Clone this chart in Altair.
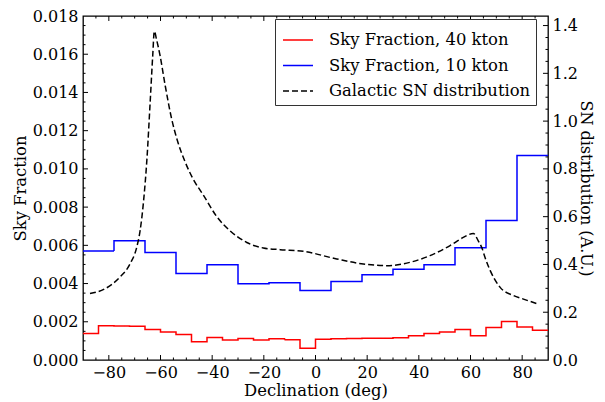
import altair as alt
import pandas as pd

FONT = "DejaVu Serif"

# ---- data ----
series_names = ["Sky Fraction, 40 kton", "Sky Fraction, 10 kton", "Galactic SN distribution"]

edges_10kt = [-90, -78, -66, -54, -42, -30, -18, -6, 6, 18, 30, 42, 54, 66, 78, 90]
frac_10kt = [0.00571, 0.00624, 0.00563, 0.00453, 0.00498, 0.00399, 0.00404, 0.00364,
             0.00411, 0.00446, 0.00475, 0.00499, 0.00588, 0.00730, 0.01070]

edges_40kt = [-90, -84, -78, -72, -66, -60, -54, -48, -42, -36, -30, -24, -18, -12, -6,
              0, 6, 12, 18, 24, 30, 36, 42, 48, 54, 60, 66, 72, 78, 84, 90]
frac_40kt = [0.00139, 0.00179, 0.00178, 0.00176, 0.00160, 0.00146, 0.00133, 0.00095,
             0.00118, 0.00104, 0.00113, 0.00104, 0.00111, 0.00106, 0.00062,
             0.00109, 0.00111, 0.00113, 0.00114, 0.00114, 0.00116, 0.00127, 0.00139,
             0.00147, 0.00160, 0.00127, 0.00170, 0.00201, 0.00173, 0.00156]

sn_dec = [-87.3, -81.5, -75.7, -71.8, -69.2, -67.9, -66.6, -65.2, -64.0, -63.0, -62.4,
          -61.5, -60.2, -58.2, -55.7, -53.5, -50.5, -47.5, -43.4, -38.2, -33.1, -26.6,
          -20.2, -13.7, -4.7, 8.2, 18.5, 27.6, 36.6, 44.3, 52.1, 57.2, 61.1, 63.0,
          64.4, 65.6, 67.6, 71.4, 76.6, 80.5, 85.6]
sn_val = [0.278, 0.298, 0.347, 0.402, 0.472, 0.541, 0.660, 0.850, 1.080, 1.276, 1.376,
          1.340, 1.276, 1.150, 1.010, 0.920, 0.830, 0.760, 0.690, 0.600, 0.541, 0.492,
          0.469, 0.462, 0.455, 0.423, 0.402, 0.395, 0.409, 0.437, 0.479, 0.513, 0.530,
          0.499, 0.470, 0.430, 0.375, 0.305, 0.270, 0.255, 0.236]

x_ticks_major = [-80, -60, -40, -20, 0, 20, 40, 60, 80]
x_ticks_minor = [v for v in range(-85, 90, 5) if v % 20 != 0]
left_labels = [0.0, 0.002, 0.004, 0.006, 0.008, 0.010, 0.012, 0.014, 0.016, 0.018]
left_ticks_major = left_labels[1:-1]
left_ticks_minor = [round(0.0005 * i, 4) for i in range(1, 36) if i % 4 != 0]
right_labels = [0.0, 0.2, 0.4, 0.6, 0.8, 1.0, 1.2, 1.4]
right_ticks_major = right_labels[1:]
right_ticks_minor = [round(0.05 * i, 2) for i in range(1, 29) if i % 4 != 0]

X_DOM = [-90, 90]
LEFT_DOM = [0, 0.018]
RIGHT_DOM = [0, 1.44]

# ---- tables ----
rows = []
for name, edges, vals in [(series_names[0], edges_40kt, frac_40kt),
                          (series_names[1], edges_10kt, frac_10kt)]:
    for e, v in zip(edges, vals + [vals[-1]]):
        rows.append({"dec": e, "frac": v, "series": name})
hist_df = pd.DataFrame(rows)
sn_df = pd.DataFrame({"dec": sn_dec, "sn": sn_val, "series": series_names[2]})

# inward tick lengths
MAJ_Y, MIN_Y = 0.00026, 0.00013   # along y (left units)
MAJ_X, MIN_X = 1.94, 0.97          # along x (deg)
trows = []
for t in x_ticks_major:
    trows.append({"dec": t, "x2": t, "frac": 0, "y2": MAJ_Y})
    trows.append({"dec": t, "x2": t, "frac": 0.018, "y2": 0.018 - MAJ_Y})
for t in x_ticks_minor:
    trows.append({"dec": t, "x2": t, "frac": 0, "y2": MIN_Y})
    trows.append({"dec": t, "x2": t, "frac": 0.018, "y2": 0.018 - MIN_Y})
for t in left_ticks_major:
    trows.append({"dec": -90, "x2": -90 + MAJ_X, "frac": t, "y2": t})
for t in left_ticks_minor:
    trows.append({"dec": -90, "x2": -90 + MIN_X, "frac": t, "y2": t})
ltick_df = pd.DataFrame(trows)

rrows = []
for t in right_ticks_major:
    rrows.append({"dec": 90, "x2": 90 - MAJ_X, "sn": t, "y2": t})
for t in right_ticks_minor:
    rrows.append({"dec": 90, "x2": 90 - MIN_X, "sn": t, "y2": t})
rtick_df = pd.DataFrame(rrows)

# ---- scales ----
xscale = alt.Scale(domain=X_DOM, nice=False, zero=False)
lscale = alt.Scale(domain=LEFT_DOM, nice=False)
rscale = alt.Scale(domain=RIGHT_DOM, nice=False)
color_scale = alt.Scale(domain=series_names, range=["#ff0000", "#0000ff", "#000000"])
dash_scale = alt.Scale(domain=series_names, range=[[1, 0], [1, 0], [6, 3]])

legend = alt.Legend(
    title=None, orient="none", legendX=192, legendY=3,
    fillColor="white", strokeColor="#333333", padding=5, cornerRadius=0,
    labelFont=FONT, labelFontSize=16.4, labelColor="black", labelLimit=400,
    symbolType="stroke", symbolSize=900, symbolStrokeWidth=1.5, symbolOffset=2,
    rowPadding=0.5, labelOffset=15,
)

AX = dict(tickSize=0, ticks=False, domain=False, grid=False,
          labelOverlap=False, labelFont=FONT, titleFont=FONT, labelFontSize=16,
          labelColor="black", titleColor="black", titleFontWeight="normal")

x_axis = alt.Axis(title="Declination (deg)", values=x_ticks_major, format="d",
                  labelPadding=4, titlePadding=2, titleFontSize=16.4, **AX)
l_axis = alt.Axis(title="Sky Fraction", values=left_labels, format=".3f",
                  labelPadding=5, titlePadding=4, titleFontSize=16.4, **AX)
r_axis = alt.Axis(title="SN distribution (A.U.)", orient="right",
                  values=right_labels, format=".1f", labelPadding=4,
                  titlePadding=0, titleFontSize=16, **AX)

hist = alt.Chart(hist_df).mark_line(interpolate="step-after", strokeWidth=1.5).encode(
    x=alt.X("dec:Q", scale=xscale, axis=x_axis),
    y=alt.Y("frac:Q", scale=lscale, axis=l_axis),
    color=alt.Color("series:N", scale=color_scale, legend=legend),
    strokeDash=alt.StrokeDash("series:N", scale=dash_scale, legend=legend),
)

lticks = alt.Chart(ltick_df).mark_rule(color="black", strokeWidth=1).encode(
    x=alt.X("dec:Q", scale=xscale, axis=x_axis), x2="x2:Q",
    y=alt.Y("frac:Q", scale=lscale, axis=l_axis), y2="y2:Q",
)

sn = alt.Chart(sn_df).mark_line(interpolate="monotone", strokeWidth=1.5).encode(
    x=alt.X("dec:Q", scale=xscale, axis=x_axis),
    y=alt.Y("sn:Q", scale=rscale, axis=r_axis),
    color=alt.Color("series:N", scale=color_scale, legend=legend),
    strokeDash=alt.StrokeDash("series:N", scale=dash_scale, legend=legend),
)

rticks = alt.Chart(rtick_df).mark_rule(color="black", strokeWidth=1).encode(
    x=alt.X("dec:Q", scale=xscale, axis=x_axis), x2="x2:Q",
    y=alt.Y("sn:Q", scale=rscale, axis=r_axis), y2="y2:Q",
)

left = alt.layer(hist, lticks)
right = alt.layer(sn, rticks)

chart = alt.layer(left, right).resolve_scale(y="independent").properties(
    width=465, height=344,
    background="white",
    autosize=alt.AutoSizeParams(type="none"),
    padding={"left": 75, "top": 8, "right": 49, "bottom": 40},
).configure_view(
    stroke="black", strokeWidth=1.3
)

chart.save("out.html", embed_options={"renderer": "svg", "actions": False})
